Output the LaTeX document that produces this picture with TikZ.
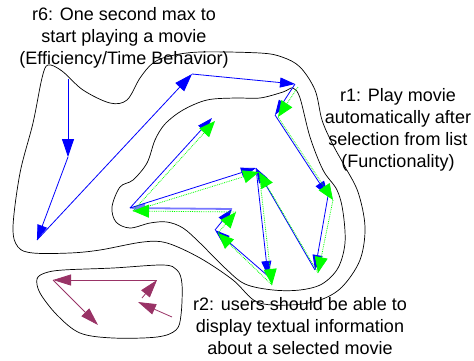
\documentclass[tikz,border=0pt]{standalone}
\usepackage{fontspec}
\setmainfont{Liberation Sans}
\usetikzlibrary{arrows.meta}
\definecolor{plum}{RGB}{153,51,102}
\definecolor{lightblue}{RGB}{120,120,255}
\tikzset{
  region/.style={draw=black, line width=0.7pt},
  label/.style={align=center, font=\fontsize{18}{22}\selectfont, inner sep=0pt},
  bluearr/.style={draw=blue, line width=0.8pt, -{Triangle[length=15pt,width=10pt]}},
  bigbluearr/.style={draw=blue, line width=0.8pt, -{Triangle[length=18pt,width=12pt]}},
  greenarr/.style={draw=green, densely dotted, line width=0.8pt, -{Triangle[length=16pt,width=13pt,fill=green]}},
  plumarr/.style={draw=plum, line width=0.8pt, -{Triangle[length=18pt,width=11pt]}},
}
\begin{document}
\begin{tikzpicture}[x=1pt,y=-1pt]
\useasboundingbox (0,0) rectangle (474,360);
% region outlines
\draw[region] plot[smooth cycle, tension=0.55] coordinates {
 (48,65) (62,71) (83,90) (110,103) (127,100) (140,78) (153,63) (170,56) (200,52) (260,53) (282,57) (300,67) (315,90) (322,120) (332,143) (344,165) (358,192) (365,227) (360,260) (342,287) (320,300) (290,305) (257,302) (233,280) (200,258) (167,243) (143,242) (100,250) (70,253) (33,253) (18,247) (13,227) (20,173) (33,123) (42,78)};
\draw[region] plot[smooth cycle, tension=0.55] coordinates {
 (260,98) (283,92) (293,88) (300,98) (310,137) (323,170) (337,190) (343,212) (345,243) (338,268) (322,284) (300,290) (273,290) (245,284) (225,268) (200,243) (183,228) (167,222) (150,223) (130,228) (116,222) (112,207) (120,187) (133,180) (147,163) (155,140) (165,124) (183,110) (207,100) (235,98)};
\draw[region] plot[smooth cycle, tension=0.55] coordinates {
 (37,279) (45,273) (63,270) (113,268) (163,265) (177,270) (182,284) (181,315) (176,330) (157,337) (113,338) (80,333) (57,315) (40,293)};
% labels
\node[label] (r6) at (124,38) {r6: One second max to\\start playing a movie\\(Efficiency/Time Behavior)};
\node[label] (r1) at (398,130) {r1: Play movie\\automatically after\\selection from list\\(Functionality)};
\node[label] (r2) at (300,326) {r2: users should be able to\\display textual information\\about a selected movie};
% blue path coordinates
\coordinate (b0) at (68,79);
\coordinate (b1) at (68,157);
\coordinate (b2) at (37,240);
\coordinate (b3) at (192,74);
\coordinate (b4) at (295,84);
\coordinate (b5) at (275,115);
\coordinate (b6) at (328,196);
\coordinate (b7) at (315,270);
\coordinate (b8) at (256,168);
\coordinate (b9) at (268,276);
\coordinate (b10) at (215,230);
\coordinate (b11) at (232,209);
\coordinate (b12) at (130,208);
\coordinate (b13) at (212,118);
% green path coordinates
\coordinate (g4) at (298,87);
\coordinate (g5) at (278,117);
\coordinate (g6) at (333,200);
\coordinate (g7) at (318,273);
\coordinate (g8) at (259,172);
\coordinate (g9) at (272,285);
\coordinate (g10) at (218,233);
\coordinate (g11) at (236,212);
\coordinate (g12) at (133,211);
\coordinate (g13) at (215,121);
% blue arrows
\draw[bigbluearr] (b0) -- (b1);
\draw[bluearr] (b1) -- (b2);
\draw[bigbluearr] (b2) -- (b3);
\draw[bluearr] (b3) -- (b4);
\draw[bluearr] (b4) -- (b5);
\draw[bluearr] (b5) -- (b6);
\draw[bluearr] (b6) -- (b7);
\draw[bluearr] (b7) -- (b8);
\draw[bluearr] (b8) -- (b9);
\draw[bluearr] (b9) -- (b10);
\draw[bluearr] (b10) -- (b11);
\draw[bluearr, draw=lightblue, line width=1.8pt] (b11) -- (b12);
\draw[bluearr] (b12) -- (b8);
\draw[bluearr] (b12) -- (b13);
% green arrows
\draw[greenarr] (g4) -- (g5);
\draw[greenarr] (g5) -- (g6);
\draw[greenarr] (g6) -- (g7);
\draw[greenarr] (g7) -- (g8);
\draw[greenarr] (g8) -- (g9);
\draw[greenarr] (g9) -- (g10);
\draw[greenarr] (g10) -- (g11);
\draw[greenarr] (g11) -- (g12);
\draw[greenarr] (g12) -- (g8);
\draw[greenarr] (g12) -- (g13);
% plum arrows
\coordinate (p0) at (157,280);
\coordinate (p1) at (53,280);
\coordinate (p2) at (98,325);
\coordinate (p3) at (142,298);
\coordinate (p4) at (172,317);
\coordinate (p5) at (138,302);
\draw[plumarr] (p0) -- (p1);
\draw[plumarr] (p1) -- (p2);
\draw[plumarr] (p3) -- (p0);
\draw[plumarr] (p4) -- (p5);
\end{tikzpicture}
\end{document}
